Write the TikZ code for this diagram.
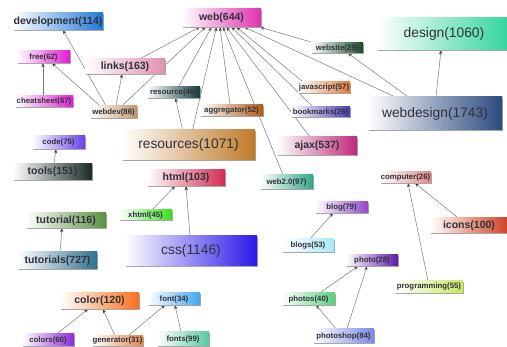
\documentclass[tikz,border=0pt]{standalone}
\usepackage{fontspec}
\setmainfont{Liberation Sans}
\usetikzlibrary{arrows.meta,shadows,backgrounds}
\definecolor{txt}{HTML}{30303A}
\definecolor{linkc}{HTML}{7A7A7A}
\definecolor{cDev}{HTML}{1F78D8}
\definecolor{cFree}{HTML}{E01AD0}
\definecolor{cCheat}{HTML}{E020D8}
\definecolor{cLinks}{HTML}{E090B0}
\definecolor{cWebdev}{HTML}{C09870}
\definecolor{cWeb}{HTML}{E030B0}
\definecolor{cWebsite}{HTML}{1A4A2A}
\definecolor{cDesign}{HTML}{30D49A}
\definecolor{cWebdesign}{HTML}{2C4A80}
\definecolor{cResource}{HTML}{123E3E}
\definecolor{cAggr}{HTML}{B05A18}
\definecolor{cJs}{HTML}{E07A38}
\definecolor{cBook}{HTML}{4A3AB8}
\definecolor{cAjax}{HTML}{C02878}
\definecolor{cResources}{HTML}{C07A28}
\definecolor{cCode}{HTML}{6A40F0}
\definecolor{cTools}{HTML}{1A2A28}
\definecolor{cHtml}{HTML}{D02C50}
\definecolor{cXhtml}{HTML}{38E018}
\definecolor{cTutorial}{HTML}{5A9040}
\definecolor{cWebtwo}{HTML}{30A888}
\definecolor{cCss}{HTML}{2A18E8}
\definecolor{cTutorials}{HTML}{2E7090}
\definecolor{cBlog}{HTML}{9048C8}
\definecolor{cBlogs}{HTML}{A8E8F8}
\definecolor{cComputer}{HTML}{E08888}
\definecolor{cIcons}{HTML}{D04020}
\definecolor{cPhoto}{HTML}{6018A8}
\definecolor{cProg}{HTML}{C8E860}
\definecolor{cPhotos}{HTML}{58D078}
\definecolor{cPhotoshop}{HTML}{7888E0}
\definecolor{cColor}{HTML}{F87018}
\definecolor{cFont}{HTML}{40A8F0}
\definecolor{cColors}{HTML}{9028D8}
\definecolor{cGen}{HTML}{E08848}
\definecolor{cFonts}{HTML}{58C8A0}
\tikzset{
  tagbox/.style={inner sep=0pt, left color=white, text=txt,
    drop shadow={shadow xshift=1.3pt, shadow yshift=-1.3pt, fill=black!35, opacity=1}},
  tagS/.style={tagbox, font=\fontsize{7.8}{9}\selectfont\bfseries},
  tagM/.style={tagbox, font=\fontsize{10.5}{12}\selectfont\bfseries},
  tagL/.style={tagbox, font=\fontsize{13.8}{16}\selectfont},
  link/.style={draw=linkc, line width=0.5pt, -{Stealth[length=4pt,width=3.2pt,color=black!75]}}
}
\begin{document}
\begin{tikzpicture}[x=1pt,y=-1pt]
\useasboundingbox (0,0) rectangle (507,347);
% nodes
\node[tagM, right color=cDev, minimum width=90pt, minimum height=17pt] (development) at (58,21.5) {development(114)};
\node[tagS, right color=cFree, minimum width=53pt, minimum height=12pt] (free) at (43.5,57) {free(62)};
\node[tagS, right color=cCheat, minimum width=58pt, minimum height=11pt] (cheatsheet) at (44,101.5) {cheatsheet(67)};
\node[tagM, right color=cLinks, minimum width=80pt, minimum height=15pt] (links) at (125,66.5) {links(163)};
\node[tagS, right color=cWebdev, minimum width=47pt, minimum height=12pt] (webdev) at (113.5,112) {webdev(86)};
\node[tagM, right color=cWeb, minimum width=79pt, minimum height=18pt] (web) at (221.5,18) {web(644)};
\node[tagS, right color=cWebsite, minimum width=52pt, minimum height=10pt] (website) at (337,48) {website(29)};
\node[tagL, right color=cDesign, minimum width=134pt, minimum height=32pt] (design) at (444,34) {design(1060)};
\node[tagL, right color=cWebdesign, minimum width=134pt, minimum height=33pt] (webdesign) at (435,113.5) {webdesign(1743)};
\node[tagS, right color=cResource, minimum width=53pt, minimum height=11pt] (resource) at (173.5,92.5) {resource(46)};
\node[tagS, right color=cAggr, minimum width=63pt, minimum height=11pt] (aggregator) at (231.5,110.5) {aggregator(52)};
\node[tagS, right color=cJs, minimum width=52pt, minimum height=11pt] (javascript) at (324,87.5) {javascript(57)};
\node[tagS, right color=cBook, minimum width=59pt, minimum height=10pt] (bookmarks) at (320.5,112) {bookmarks(26)};
\node[tagM, right color=cAjax, minimum width=80pt, minimum height=18pt] (ajax) at (317,146) {ajax(537)};
\node[tagL, right color=cResources, minimum width=133pt, minimum height=30pt] (resources) at (188.5,145) {resources(1071)};
\node[tagS, right color=cCode, minimum width=53pt, minimum height=13pt] (code) at (58.5,142.5) {code(75)};
\node[tagM, right color=cTools, minimum width=79pt, minimum height=16pt] (tools) at (52.5,172) {tools(151)};
\node[tagM, right color=cHtml, minimum width=78pt, minimum height=16pt] (html) at (186,178) {html(103)};
\node[tagS, right color=cXhtml, minimum width=53pt, minimum height=10pt] (xhtml) at (145.5,215) {xhtml(45)};
\node[tagM, right color=cTutorial, minimum width=80pt, minimum height=15pt] (tutorial) at (66,220.5) {tutorial(116)};
\node[tagS, right color=cWebtwo, minimum width=53pt, minimum height=14pt] (webtwo) at (286.5,182) {web2.0(97)};
\node[tagL, right color=cCss, minimum width=132pt, minimum height=30pt] (css) at (191,251) {css(1146)};
\node[tagM, right color=cTutorials, minimum width=79pt, minimum height=17pt] (tutorials) at (57.5,260.5) {tutorials(727)};
\node[tagS, right color=cBlog, minimum width=53pt, minimum height=11pt] (blog) at (341.5,207.5) {blog(79)};
\node[tagS, right color=cBlogs, minimum width=52pt, minimum height=13pt] (blogs) at (308,245.5) {blogs(53)};
\node[tagS, right color=cComputer, minimum width=51pt, minimum height=11pt] (computer) at (405.5,177.5) {computer(26)};
\node[tagM, right color=cIcons, minimum width=78pt, minimum height=15pt] (icons) at (469,225.5) {icons(100)};
\node[tagS, right color=cPhoto, minimum width=52pt, minimum height=11pt] (photo) at (372,260.5) {photo(28)};
\node[tagS, right color=cProg, minimum width=68pt, minimum height=12pt] (programming) at (429,287) {programming(55)};
\node[tagS, right color=cPhotos, minimum width=53pt, minimum height=12pt] (photos) at (308.5,299) {photos(40)};
\node[tagS, right color=cPhotoshop, minimum width=61pt, minimum height=14pt] (photoshop) at (343.5,336) {photoshop(84)};
\node[tagM, right color=cColor, minimum width=79pt, minimum height=16pt] (color) at (99.5,301) {color(120)};
\node[tagS, right color=cFont, minimum width=52pt, minimum height=12pt] (font) at (174,299) {font(34)};
\node[tagS, right color=cColors, minimum width=52pt, minimum height=12pt] (colors) at (48,340) {colors(60)};
\node[tagS, right color=cGen, minimum width=51pt, minimum height=10pt] (generator) at (117.5,341) {generator(31)};
\node[tagS, right color=cFonts, minimum width=52pt, minimum height=14pt] (fonts) at (183,339) {fonts(99)};
% connectors
\begin{scope}[on background layer]
\fill[white] (0,0) rectangle (507,347);
\draw[link] ([xshift=15pt]links.north) -- ([xshift=-22pt]web.south);
\draw[link] ([xshift=8.5pt]webdev.north) -- ([xshift=-16pt]web.south);
\draw[link] ([xshift=5pt]resource.north) -- ([xshift=-10pt]web.south);
\draw[link] ([xshift=4pt]resources.north) -- ([xshift=-5pt]web.south);
\draw[link] ([xshift=-1.5pt]aggregator.north) -- ([xshift=-1.5pt]web.south);
\draw[link] ([xshift=-3.5pt]webtwo.north) -- ([xshift=1.5pt]web.south);
\draw[link] ([xshift=-7pt]ajax.north) -- ([xshift=5pt]web.south);
\draw[link] ([xshift=-7.5pt]bookmarks.north) -- ([xshift=10pt]web.south);
\draw[link] ([xshift=-21pt]javascript.north) -- ([xshift=15pt]web.south);
\draw[link] ([xshift=27pt]webdesign.north west) -- ([xshift=23pt]web.south);
\draw[link] ([xshift=3pt]website.north west) -- ([xshift=-1pt]web.south east);
\draw[link] ([xshift=40pt]webdesign.north west) -- ([xshift=11pt]website.south);
\draw[link] ([xshift=1pt]webdesign.north) -- ([xshift=-3pt]design.south);
\draw[link] ([xshift=-6pt]resources.north) -- ([xshift=2pt]resource.south);
\draw[link] ([xshift=-1pt]cheatsheet.north) -- ([xshift=-0.5pt]free.south);
\draw[link] ([xshift=-13.5pt]webdev.north) -- ([xshift=8.5pt]free.south);
\draw[link] ([xshift=-7.5pt]webdev.north) -- ([xshift=5pt]development.south);
\draw[link] ([xshift=2.5pt]webdev.north) -- ([xshift=-3pt]links.south);
\draw[link] ([xshift=1.5pt]tools.north) -- ([xshift=-2.5pt]code.south);
\draw[link] ([xshift=2.5pt]tutorials.north) -- ([xshift=-4pt]tutorial.south);
\draw[link] ([xshift=6.5pt]xhtml.north) -- ([xshift=-11pt]html.south);
\draw[link] ([xshift=-1pt]css.north) -- (html.south);
\draw[link] ([xshift=2pt]blogs.north) -- ([xshift=-8.5pt]blog.south);
\draw[link] ([xshift=-1pt]programming.north) -- ([xshift=2.5pt]computer.south);
\draw[link] ([xshift=-11pt]icons.north) -- ([xshift=9.5pt]computer.south);
\draw[link] ([xshift=11.5pt]photos.north) -- ([xshift=-14pt]photo.south);
\draw[link] ([xshift=3.5pt]photoshop.north) -- ([xshift=-5pt]photo.south);
\draw[link] ([xshift=-7.5pt]photoshop.north) -- ([xshift=7.5pt]photos.south);
\draw[link] ([xshift=9pt]colors.north) -- ([xshift=-11.5pt]color.south);
\draw[link] ([xshift=-2.5pt]generator.north) -- ([xshift=3.5pt]color.south);
\draw[link] ([xshift=10.5pt]generator.north) -- ([xshift=-9pt]font.south);
\draw[link] ([xshift=-2pt]fonts.north) -- ([xshift=1pt]font.south);
\end{scope}
\end{tikzpicture}
\end{document}
